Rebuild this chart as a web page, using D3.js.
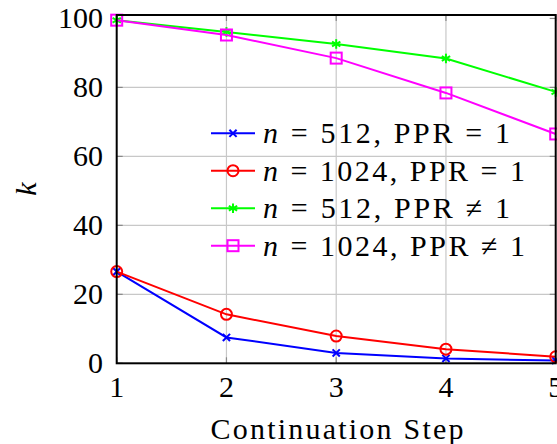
<!DOCTYPE html>
<html><head><meta charset="utf-8">
<script src="https://cdn.jsdelivr.net/npm/d3@7"></script>
</head><body style="margin:0"><svg id="c" width="557" height="444"></svg>
<script>
const steps = [1, 2, 3, 4, 5];
const xTicks = [1, 2, 3, 4, 5];
const yTicks = [0, 20, 40, 60, 80, 100];
const n512ppr1 = [26.6, 7.5, 3.0, 1.4, 0.8];
const n1024ppr1 = [26.6, 14.2, 7.9, 4.1, 1.9];
const n512pprNe1 = [99.5, 96.1, 92.6, 88.4, 78.7];
const n1024pprNe1 = [99.5, 95.2, 88.5, 78.4, 66.5];
const seriesNames = [["512", "="], ["1024", "="], ["512", "\u2260"], ["1024", "\u2260"]];
const xLabel = "Continuation Step";
const yLabel = "k";

const series = [
  {vals: n512ppr1, color: "#0000ff", mark: "x", name: seriesNames[0]},
  {vals: n1024ppr1, color: "#ff0000", mark: "o", name: seriesNames[1]},
  {vals: n512pprNe1, color: "#00ff00", mark: "*", name: seriesNames[2]},
  {vals: n1024pprNe1, color: "#ff00ff", mark: "s", name: seriesNames[3]},
];

const FF = "'Liberation Serif'";
const L = 116.7, R = 555.7, T = 15, B = 363.3;
const svg = d3.select("#c");
const x = d3.scaleLinear().domain([1, 5]).range([L, R]);
const y = d3.scaleLinear().domain([0, 101]).range([B, T]);

function txt(sel) {
  const t = sel.append("text").attr("font-family", FF).attr("font-size", 30)
    .style("font-family", FF);
  return t;
}

// grid
const g = svg.append("g");
g.selectAll(".gx").data(xTicks.slice(1, -1)).enter().append("line")
  .attr("x1", d => x(d)).attr("x2", d => x(d)).attr("y1", T).attr("y2", B)
  .attr("stroke", "#c8c8c8").attr("stroke-width", 1.2);
g.selectAll(".gy").data(yTicks.slice(1, -1)).enter().append("line")
  .attr("y1", d => y(d)).attr("y2", d => y(d)).attr("x1", L).attr("x2", R)
  .attr("stroke", "#c8c8c8").attr("stroke-width", 1.2);
const tk = 6;
xTicks.forEach(d => {
  g.append("line").attr("x1", x(d)).attr("x2", x(d)).attr("y1", B).attr("y2", B - tk).attr("stroke", "#888").attr("stroke-width", 1.2);
  g.append("line").attr("x1", x(d)).attr("x2", x(d)).attr("y1", T).attr("y2", T + tk).attr("stroke", "#888").attr("stroke-width", 1.2);
});
yTicks.forEach(d => {
  g.append("line").attr("x1", L).attr("x2", L + tk).attr("y1", y(d)).attr("y2", y(d)).attr("stroke", "#888").attr("stroke-width", 1.2);
  g.append("line").attr("x1", R).attr("x2", R - tk).attr("y1", y(d)).attr("y2", y(d)).attr("stroke", "#888").attr("stroke-width", 1.2);
});

// tick labels
xTicks.forEach(d => {
  txt(svg).attr("x", x(d)).attr("y", 397).attr("text-anchor", "middle").text(d);
});
yTicks.forEach(d => {
  txt(svg).attr("x", 103).attr("y", y(d) + 10).attr("text-anchor", "end").text(d);
});

txt(svg).attr("x", 337).attr("y", 439).attr("text-anchor", "middle")
  .attr("textLength", 253).attr("lengthAdjust", "spacing").text(xLabel);
txt(svg).attr("transform", "translate(36,189) rotate(-90)")
  .attr("text-anchor", "middle").attr("font-style", "italic").text(yLabel);

function drawMark(sel, mark, color, cx, cy) {
  const m = sel.append("g").attr("transform", `translate(${cx},${cy})`)
    .attr("stroke", color).attr("stroke-width", 2).attr("fill", "none");
  if (mark === "x") {
    const r = 3.6;
    m.append("line").attr("x1", -r).attr("y1", -r).attr("x2", r).attr("y2", r);
    m.append("line").attr("x1", -r).attr("y1", r).attr("x2", r).attr("y2", -r);
  } else if (mark === "o") {
    m.append("circle").attr("r", 5.5);
  } else if (mark === "*") {
    const r = 4.8;
    [90, 30, 150].forEach(a => {
      const dx = r * Math.cos(a * Math.PI / 180), dy = r * Math.sin(a * Math.PI / 180);
      m.append("line").attr("x1", -dx).attr("y1", -dy).attr("x2", dx).attr("y2", dy);
    });
  } else if (mark === "s") {
    m.append("rect").attr("x", -5.5).attr("y", -5.5).attr("width", 11).attr("height", 11);
  }
}

const line = d3.line().x((d, i) => x(steps[i])).y(d => y(d));
series.forEach(s => {
  svg.append("path").attr("d", line(s.vals)).attr("fill", "none")
    .attr("stroke", s.color).attr("stroke-width", 2);
  s.vals.forEach((v, i) => drawMark(svg, s.mark, s.color, x(steps[i]), y(v)));
});

svg.append("rect").attr("x", L).attr("y", T).attr("width", R - L).attr("height", B - T)
  .attr("fill", "none").attr("stroke", "#000").attr("stroke-width", 2);

// legend
const legY = [133.3, 170.7, 208.3, 245.7];
const legW = [247, 262, 247, 262];
series.forEach((s, i) => {
  const ly = legY[i];
  svg.append("line").attr("x1", 211).attr("x2", 255).attr("y1", ly).attr("y2", ly)
    .attr("stroke", s.color).attr("stroke-width", 2);
  drawMark(svg, s.mark, s.color, 233, ly);
  const t = txt(svg).attr("x", 263).attr("y", ly + 10)
    .attr("textLength", legW[i]).attr("lengthAdjust", "spacing");
  t.append("tspan").attr("font-style", "italic").text("n");
  t.append("tspan").text(` = ${s.name[0]}, PPR ${s.name[1]} 1`);
});

// force layout so fonts resolve before the snapshot
svg.selectAll("text").each(function () { this.getComputedTextLength(); });
</script></body></html>
